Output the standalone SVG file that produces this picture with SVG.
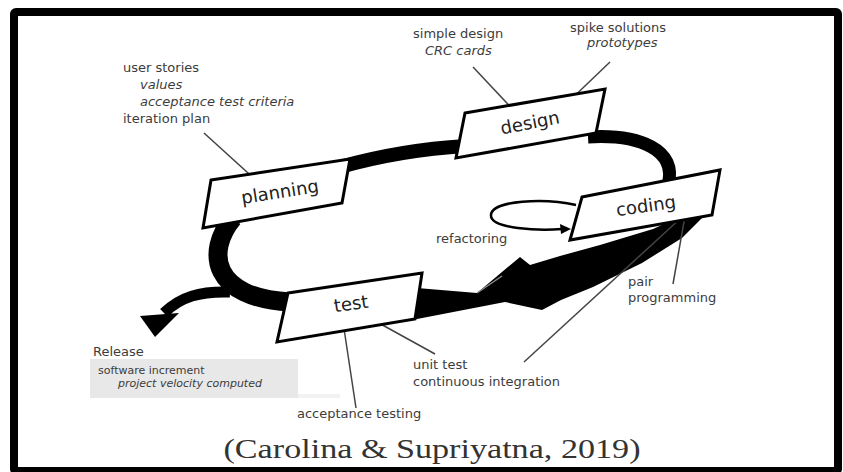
<svg xmlns="http://www.w3.org/2000/svg" width="843" height="472" viewBox="0 0 843 472">
<style>
.lbl{font-family:"DejaVu Sans",Verdana,sans-serif;font-size:13px;fill:#3c3c3c}
.it{font-style:italic}
.sm{font-size:11px}
.box{fill:#fff;stroke:#000;stroke-width:3;stroke-linejoin:miter}
.bt{font-family:"DejaVu Sans",Verdana,sans-serif;font-size:18px;fill:#222;text-anchor:middle}
.lead{stroke:#444;stroke-width:1.5;fill:none}
.band{fill:none;stroke:#000;stroke-linecap:butt}
</style>
<rect x="0" y="0" width="843" height="472" fill="#fff"/>
<rect x="14" y="12" width="824" height="459" fill="none" stroke="#000" stroke-width="8" rx="2"/>
<g id="connectors">
  <path class="band" stroke-width="14" d="M340,167 Q400,150 466,146"/>
  <path class="band" stroke-width="13" d="M588,137 C640,134 678,150 668,185"/>
  <path class="band" stroke-width="19" d="M233,218 C205,252 212,298 290,302"/>
  <path class="band" stroke-width="11" d="M230,292 C200,291 180,297 164,313"/>
  <polygon points="140,316 179,313 155,337" fill="#000"/>
  <polygon points="405,287 477,293 520,257 530,265 560,256 600,245 653,229 686,214 702,218 682,238 642,263 593,287 561,300 542,310 505,302 417,319 405,320" fill="#000"/>
  <line x1="477" y1="293" x2="502" y2="276" stroke="#8a8a8a" stroke-width="1.5"/>
  <path d="M576,205 C545,198 492,200 491,215 C490,229 540,231 562,229" fill="none" stroke="#000" stroke-width="2.5"/>
  <polygon points="571,229 560,224 561,234" fill="#000"/>
  <line class="lead" x1="204" y1="133" x2="258" y2="182"/>
  <line class="lead" x1="473" y1="67" x2="518" y2="115"/>
  <line class="lead" x1="610" y1="62" x2="563" y2="107"/>
  <line class="lead" x1="685" y1="216" x2="673" y2="284"/>
  <line class="lead" x1="682" y1="217" x2="524" y2="362"/>
  <line class="lead" x1="368" y1="317" x2="435" y2="354"/>
  <line class="lead" x1="343" y1="322" x2="356" y2="408"/>
</g>
<g id="planning">
  <polygon class="box" points="211,180 350,159 342,203 203,228"/>
  <text class="bt" x="280" y="198" transform="rotate(-9 280 192)">planning</text>
</g>
<g id="design">
  <polygon class="box" points="465,113 605,89 596,133 456,158"/>
  <text class="bt" x="530" y="129" transform="rotate(-11 530 123)">design</text>
</g>
<g id="coding">
  <polygon class="box" points="582,197 720,170 712,215 570,240"/>
  <text class="bt" x="646" y="212" transform="rotate(-8 646 206)">coding</text>
</g>
<g id="test">
  <polygon class="box" points="288,293 422,273 415,319 277,342"/>
  <text class="bt" x="351" y="310" transform="rotate(-8 351 304)">test</text>
</g>
<g id="planning-notes">
  <text class="lbl" x="123" y="72">user stories</text>
  <text class="lbl it" x="140" y="89">values</text>
  <text class="lbl it" x="140" y="106">acceptance test criteria</text>
  <text class="lbl" x="123" y="123">iteration plan</text>
</g>
<g id="design-notes">
  <text class="lbl" x="413" y="38">simple design</text>
  <text class="lbl it" x="425" y="55">CRC cards</text>
  <text class="lbl" x="570" y="32">spike solutions</text>
  <text class="lbl it" x="587" y="47">prototypes</text>
</g>
<g id="coding-notes">
  <text class="lbl" x="436" y="243">refactoring</text>
  <text class="lbl" x="628" y="286">pair</text>
  <text class="lbl" x="628" y="302">programming</text>
</g>
<g id="test-notes">
  <text class="lbl" x="413" y="369">unit test</text>
  <text class="lbl" x="413" y="386">continuous integration</text>
  <text class="lbl" x="297" y="418">acceptance testing</text>
</g>
<g id="release">
  <rect x="90" y="359" width="208" height="39" fill="#e8e8e8"/>
  <rect x="298" y="394" width="42" height="4" fill="#f2f2f2"/>
  <text class="lbl" x="93" y="356">Release</text>
  <text class="lbl sm" x="98" y="374">software increment</text>
  <text class="lbl sm it" x="118" y="387">project velocity computed</text>
</g>
<text x="432" y="458" text-anchor="middle" font-family="'Liberation Serif','DejaVu Serif',serif" font-size="27" fill="#333" textLength="417" lengthAdjust="spacingAndGlyphs">(Carolina &amp; Supriyatna, 2019)</text>
</svg>
